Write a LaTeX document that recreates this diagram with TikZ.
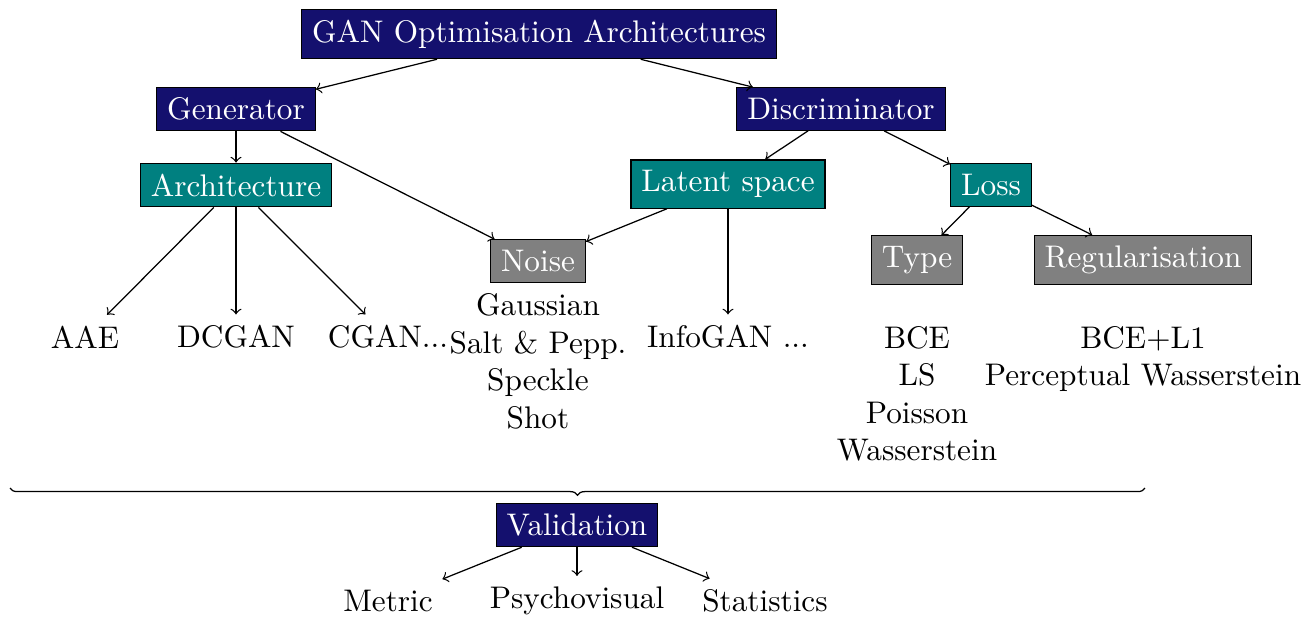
\documentclass[tikz,border=0pt]{standalone}
\usepackage{tikz}
\usetikzlibrary{positioning, decorations.pathreplacing}

\definecolor{navybox}{RGB}{20,16,110}

\tikzset{
	mainbox/.style={draw, fill=navybox, text=white},
	subbox/.style={draw, fill=teal, text=white},
	leafbox/.style={draw, fill=gray, text=white},
	itemlist/.style={align=center, anchor=north}
}

\begin{document}
\begin{tikzpicture}[x=0.32pt, y=-0.32pt]
	\useasboundingbox (0,0) rectangle (1316,617);

	% top levels
	\node[mainbox] (gan) at (539,34) {GAN Optimisation Architectures};
	\node[mainbox] (gen) at (236,109) {Generator};
	\node[mainbox] (disc) at (841,109) {Discriminator};

	\node[subbox] (arch) at (236,185) {Architecture};
	\node[subbox] (latent) at (728,184) {Latent space};
	\node[subbox] (loss) at (991,185) {Loss};

	\node[leafbox] (noise) at (538,261) {Noise};
	\node[leafbox] (type) at (917,260) {Type};
	\node[leafbox] (reg) at (1143,260) {Regularisation};

	% leaves
	\node (aae) at (85,337) {AAE};
	\node (dcgan) at (236,337) {DCGAN};
	\node (cgan) at (388,337) {CGAN...};
	\node (infogan) at (728,337) {InfoGAN ...};

	\node[itemlist, below=0pt of noise] (noiselist) {Gaussian\\Salt \& Pepp.\\Speckle\\Shot};
	\node[itemlist] (typelist) at (917,315) {BCE\\LS\\Poisson\\Wasserstein};
	\node[itemlist] (reglist) at (1143,315) {BCE+L1\\Perceptual Wasserstein};

	\foreach \a/\b in {gan/gen, gan/disc, gen/arch, gen/noise, disc/latent, disc/loss,
		latent/noise, latent/infogan, loss/type, loss/reg, arch/aae, arch/dcgan, arch/cgan}
		\draw[->] (\a) -- (\b);

	% validation
	\coordinate (bl) at (10,488);
	\coordinate (br) at (1145,488);
	\draw[decorate, decoration={brace, mirror, amplitude=2.3pt}] (bl) -- (br);

	\node[mainbox] (valid) at (577,525) {Validation};
	\node (metric) at (388,601) {Metric};
	\node (psycho) at (577,601) {Psychovisual};
	\node (stats) at (765,601) {Statistics};

	\foreach \b in {metric, psycho, stats}
		\draw[->] (valid) -- (\b);
\end{tikzpicture}
\end{document}
